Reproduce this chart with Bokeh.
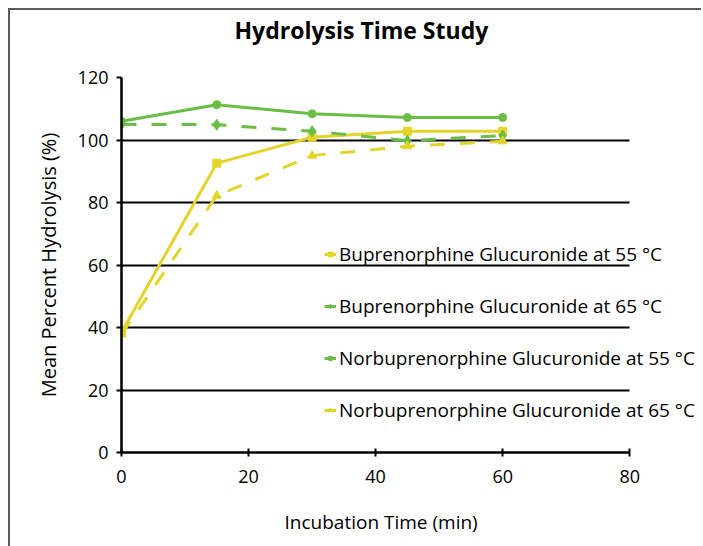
from bokeh.plotting import figure
from bokeh.layouts import column
from bokeh.models import Range1d, FixedTicker, Legend, LegendItem, Title
from bokeh.embed import file_html
from bokeh.resources import INLINE

# ---- data ----
time_min = [0, 15, 30, 45, 60]
bup_55 = [38.5, 92.6, 100.9, 102.8, 102.8]
bup_65 = [105.0, 104.9, 102.8, 99.8, 101.4]
norbup_55 = [106.0, 111.3, 108.4, 107.2, 107.2]
norbup_65 = [37.8, 82.2, 95.0, 98.0, 99.6]

x_ticks = [0, 20, 40, 60, 80]
y_ticks = [0, 20, 40, 60, 80, 100, 120]

labels = [
    "Buprenorphine Glucuronide at 55 °C",
    "Buprenorphine Glucuronide at 65 °C",
    "Norbuprenorphine Glucuronide at 55 °C",
    "Norbuprenorphine Glucuronide at 65 °C",
]
title_text = "Hydrolysis Time Study"
x_label = "Incubation Time (min)"
y_label = "Mean Percent Hydrolysis (%)"

YELLOW = "#e2d429"
GREEN = "#6abd45"
FONT = "Open Sans"

X_MAX = 80
# frame is widened to the right (room for the legend), axis and grid stop at 80
X_VIEW_MAX = X_MAX * 578 / 510

p = figure(width=693, height=577, output_backend="svg",
           toolbar_location=None,
           x_range=Range1d(0, X_VIEW_MAX), y_range=Range1d(0, 120),
           min_border_left=111, min_border_right=4, min_border_top=98,
           min_border_bottom=104)
p.styles = {"margin-top": "-31px", "flex-shrink": "0"}
p.border_fill_color = None
p.outline_line_color = None
p.background_fill_color = "white"

# title
p.title.text = title_text
p.title.text_font = FONT
p.title.text_font_size = "23px"
p.title.text_font_style = "bold"
p.title.text_color = "black"
p.title.align = "left"
p.title.offset = 113
p.title.standoff = 63

# axes
for ax in (p.xaxis[0], p.yaxis[0]):
    ax.axis_line_color = "black"
    ax.axis_line_width = 2.5
    ax.major_tick_line_color = "black"
    ax.major_tick_line_width = 2
    ax.minor_tick_line_color = None
    ax.major_label_text_font = FONT
    ax.major_label_text_font_size = "18px"
    ax.major_label_text_color = "black"
    ax.axis_label_text_font = FONT
    ax.axis_label_text_font_size = "20px"
    ax.axis_label_text_font_style = "normal"
    ax.axis_label_text_color = "black"

p.xaxis.ticker = FixedTicker(ticks=x_ticks)
p.xaxis.bounds = (0, X_MAX)
p.yaxis.ticker = FixedTicker(ticks=y_ticks)
p.xaxis.major_tick_in = 4
p.xaxis.major_tick_out = 4
p.yaxis.major_tick_in = 0
p.yaxis.major_tick_out = 5
p.xaxis.major_label_standoff = 13
p.yaxis.major_label_standoff = 8
p.yaxis.axis_label = y_label
p.yaxis.axis_label_standoff = 13

# x axis title, centred over the 0-80 part of the frame
xt = Title(text=x_label, text_font=FONT, text_font_size="19px",
           text_font_style="normal", text_color="black",
           align="left", offset=163, standoff=42)
p.add_layout(xt, "below")

p.xgrid.grid_line_color = None
p.ygrid.grid_line_color = "black"
p.ygrid.grid_line_width = 2
p.ygrid.ticker = FixedTicker(ticks=y_ticks)
p.ygrid.cross_bounds = (0, X_MAX)

series = [
    (bup_55, YELLOW, "solid", "square", 8),
    (bup_65, GREEN, "15 15", "diamond", 11),
    (norbup_55, GREEN, "solid", "circle", 8),
    (norbup_65, YELLOW, "15 15", "triangle", 9),
]

items = []
for (vals, col, dash, mk, sz), lab in zip(series, labels):
    l = p.line(time_min, vals, line_color=col, line_width=3, line_dash=dash)
    s = p.scatter(time_min, vals, marker=mk, size=sz, fill_color=col, line_color=col)
    items.append(LegendItem(label=lab, renderers=[l, s]))

legend = Legend(items=items, location=(203, 28), orientation="vertical",
                label_text_font=FONT, label_text_font_size="19px",
                label_text_color="black",
                glyph_width=12, glyph_height=28, label_height=28,
                spacing=24, padding=0, margin=0, label_standoff=3,
                border_line_alpha=0, background_fill_alpha=0)
p.add_layout(legend, "center")

page = column(p, styles={"margin-left": "8px", "margin-top": "8px",
                         "border-left": "2px solid #5c5c5c",
                         "border-top": "2px solid #5c5c5c",
                         "overflow": "hidden", "width": "693px"})

open("out.html", "w").write(file_html(page, INLINE))
